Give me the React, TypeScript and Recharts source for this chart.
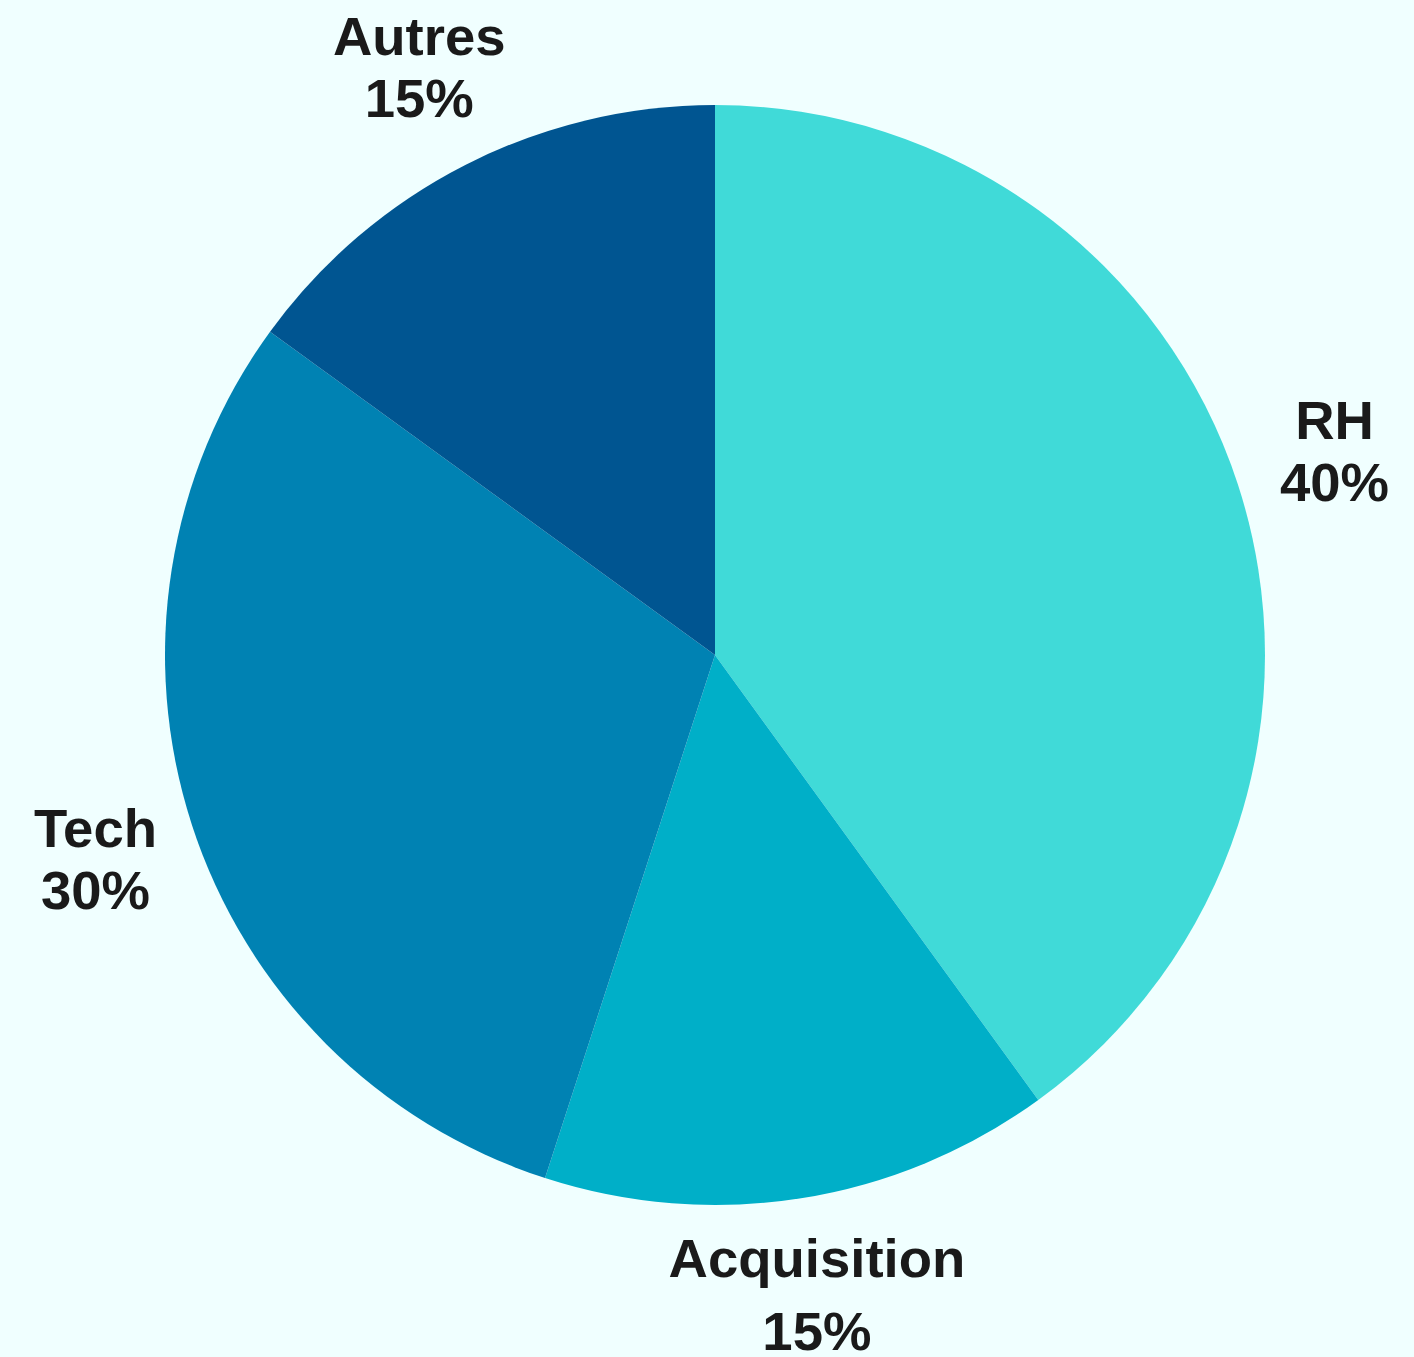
import { PieChart, Pie, Cell } from "recharts"

const categories = ["RH", "Acquisition", "Tech", "Autres"]
const shares = [40, 15, 30, 15]
const colors = ["#40DAD8", "#00AFC8", "#0082B3", "#005591"]

const data = categories.map((name, i) => ({ name, value: shares[i] }))

const RADIAN = Math.PI / 180

const renderLabel = (props: any) => {
  const { cx, cy, midAngle, outerRadius, name, value } = props
  const r = outerRadius * 1.2
  const x = cx + r * 0.987 * Math.cos(-midAngle * RADIAN)
  const y = cy + r * Math.sin(-midAngle * RADIAN)
  // names with a descender push the block like matplotlib does
  const hasDescender = /[gjpqy]/.test(name)
  const first = hasDescender ? -30 : -12
  const second = hasDescender ? 43 : 50
  return (
    <text
      x={x}
      y={y}
      textAnchor="middle"
      fill="#1a1a1a"
      fontSize={54.5}
      fontWeight="bold"
      fontFamily="'Liberation Sans', Arial, sans-serif"
    >
      <tspan x={x} y={y + first}>{name}</tspan>
      <tspan x={x} y={y + second}>{`${value}%`}</tspan>
    </text>
  )
}

export default function App() {
  return (
    <div
      style={{
        position: "absolute",
        top: 0,
        left: 0,
        width: 1414,
        height: 1357,
        background: "#F0FFFF",
      }}
    >
      <PieChart
        width={1414}
        height={1357}
        margin={{ top: 0, right: 0, bottom: 0, left: 0 }}
      >
        <Pie
          data={data}
          dataKey="value"
          nameKey="name"
          cx={715}
          cy={655}
          outerRadius={550}
          startAngle={90}
          endAngle={-270}
          stroke="none"
          label={renderLabel}
          labelLine={false}
          isAnimationActive={false}
        >
          {data.map((d, i) => (
            <Cell key={d.name} fill={colors[i]} />
          ))}
        </Pie>
      </PieChart>
    </div>
  )
}
